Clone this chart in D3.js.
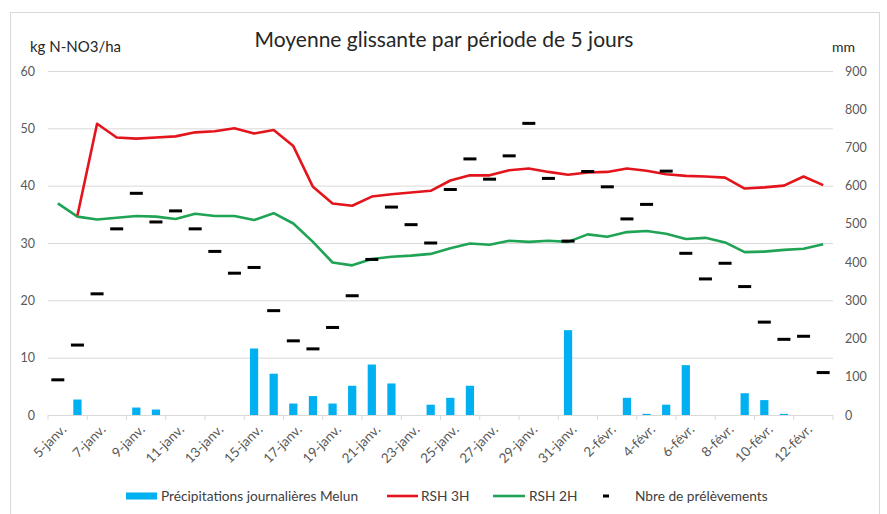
<!DOCTYPE html>
<html>
<head>
<meta charset="utf-8">
<script src="https://cdn.jsdelivr.net/npm/d3@7"></script>
<style>
  body { margin: 0; background: #fff; }
  text { font-family: Lato, "Open Sans", sans-serif; }
</style>
</head>
<body>
<div id="chart-1"></div>
<script>
// categories: one per day, 5 janv -> 13 févr
var days = ["5-janv.","6-janv.","7-janv.","8-janv.","9-janv.","10-janv.","11-janv.","12-janv.","13-janv.","14-janv.",
            "15-janv.","16-janv.","17-janv.","18-janv.","19-janv.","20-janv.","21-janv.","22-janv.","23-janv.","24-janv.",
            "25-janv.","26-janv.","27-janv.","28-janv.","29-janv.","30-janv.","31-janv.","1-févr.","2-févr.","3-févr.",
            "4-févr.","5-févr.","6-févr.","7-févr.","8-févr.","9-févr.","10-févr.","11-févr.","12-févr.","13-févr."];

// daily rainfall Melun
var precip = [0, 2.7, 0, 0, 1.3, 0.95, 0, 0, 0, 0,
              11.6, 7.2, 2.0, 3.3, 2.0, 5.1, 8.8, 5.5, 0, 1.8,
              3.0, 5.1, 0, 0, 0, 0, 14.8, 0, 0, 3.0,
              0.2, 1.8, 8.7, 0, 0, 3.8, 2.6, 0.2, 0, 0];

// RSH 3H rolling mean (kg N-NO3/ha)
var rsh3 = [null, 34.8, 50.8, 48.4, 48.2, 48.4, 48.6, 49.3, 49.5, 50.0,
            49.1, 49.7, 46.9, 39.8, 36.9, 36.5, 38.1, 38.5, 38.8, 39.1,
            40.9, 41.8, 41.8, 42.7, 43.0, 42.4, 41.9, 42.3, 42.4, 43.0,
            42.6, 42.0, 41.7, 41.6, 41.4, 39.5, 39.7, 40.0, 41.6, 40.1];

// RSH 2H rolling mean (kg N-NO3/ha)
var rsh2 = [36.9, 34.6, 34.1, 34.4, 34.7, 34.6, 34.2, 35.1, 34.7, 34.7,
            34.0, 35.2, 33.4, 30.2, 26.6, 26.1, 27.2, 27.6, 27.8, 28.1,
            29.1, 29.9, 29.7, 30.4, 30.2, 30.4, 30.2, 31.5, 31.1, 31.9,
            32.1, 31.6, 30.7, 30.9, 30.1, 28.4, 28.5, 28.8, 29.0, 29.8];

// number of samples (right axis)
var nbre = [92, 183, 317, 487, 580, 505, 534, 487, 428, 371,
            386, 273, 194, 173, 229, 312, 407, 544, 498, 450,
            590, 670, 617, 678, 763, 619, 455, 637, 597, 513,
            551, 638, 423, 356, 397, 336, 243, 198, 206, 111];

var leftTicks = [0, 10, 20, 30, 40, 50, 60];
var rightTicks = [0, 100, 200, 300, 400, 500, 600, 700, 800, 900];

var W = 887, H = 514;
var plot = {left: 48, right: 833, top: 71, bottom: 415};

var svg = d3.select("#chart-1")
    .append("svg")
    .attr("width", W)
    .attr("height", H);

// chart frame
svg.append("rect")
    .attr("x", 10.5).attr("y", 12.5)
    .attr("width", 869).attr("height", 540)
    .style("fill", "#fff")
    .style("stroke", "#d9d9d9");

var x = d3.scaleBand().domain(days).range([plot.left, plot.right]).padding(0);
var y = d3.scaleLinear().domain([0, 60]).range([plot.bottom, plot.top]);
var y2 = d3.scaleLinear().domain([0, 900]).range([plot.bottom, plot.top]);
var bw = x.bandwidth();

// gridlines + left axis
var yAxis = d3.axisLeft(y)
    .tickValues(leftTicks)
    .tickSize(-(plot.right - plot.left))
    .tickPadding(13);

svg.append("g")
    .attr("class", "y axis")
    .attr("transform", "translate(" + plot.left + ",0)")
    .call(yAxis)
    .call(function(g) {
        g.select(".domain").remove();
        g.selectAll(".tick line").style("stroke", "#d9d9d9");
        g.selectAll(".tick text").style("fill", "#595959").style("font-size", "12.5px");
    });

// right axis (labels only)
svg.append("g")
    .attr("class", "y2 axis")
    .attr("transform", "translate(" + plot.right + ",0)")
    .call(d3.axisRight(y2).tickValues(rightTicks).tickSize(0).tickPadding(12))
    .call(function(g) {
        g.select(".domain").remove();
        g.selectAll(".tick text").style("fill", "#595959").style("font-size", "12.5px");
    });

// x axis line and tick marks every 2 days
svg.append("line")
    .attr("x1", plot.left).attr("x2", plot.right)
    .attr("y1", plot.bottom + 0.5).attr("y2", plot.bottom + 0.5)
    .style("stroke", "#d9d9d9");

var tickIdx = d3.range(0, days.length + 1, 2);
svg.append("g").selectAll("line")
    .data(tickIdx)
    .enter().append("line")
    .attr("x1", function(i) { return i < days.length ? x(days[i]) : plot.right; })
    .attr("x2", function(i) { return i < days.length ? x(days[i]) : plot.right; })
    .attr("y1", plot.bottom)
    .attr("y2", plot.bottom + 5)
    .style("stroke", "#d9d9d9");

svg.append("g").selectAll("text")
    .data(days.filter(function(d, i) { return i % 2 === 0; }))
    .enter().append("text")
    .attr("transform", function(d) {
        return "translate(" + (x(d) + bw / 2 + 6) + "," + (plot.bottom + 12) + ") rotate(-45)";
    })
    .attr("text-anchor", "end")
    .attr("dy", "0.35em")
    .style("fill", "#595959")
    .style("font-size", "13.5px")
    .text(function(d) { return d; });

// rainfall bars
var barW = bw * 0.42;
svg.append("g").selectAll("rect")
    .data(precip.map(function(v, i) { return {day: days[i], v: v}; }).filter(function(d) { return d.v > 0; }))
    .enter().append("rect")
    .attr("x", function(d) { return x(d.day) + (bw - barW) / 2; })
    .attr("y", function(d) { return y(d.v); })
    .attr("width", barW)
    .attr("height", function(d) { return plot.bottom - y(d.v); })
    .style("fill", "#00b0f0");

// lines
var line = d3.line()
    .defined(function(d) { return d.v !== null; })
    .x(function(d) { return x(d.day) + bw / 2; })
    .y(function(d) { return y(d.v); });

svg.append("path")
    .datum(rsh2.map(function(v, i) { return {day: days[i], v: v}; }))
    .attr("d", line)
    .style("fill", "none")
    .style("stroke", "#1fa355")
    .style("stroke-width", "2.6px")
    .style("stroke-linejoin", "round");

svg.append("path")
    .datum(rsh3.map(function(v, i) { return {day: days[i], v: v}; }))
    .attr("d", line)
    .style("fill", "none")
    .style("stroke", "#e3141b")
    .style("stroke-width", "2.6px")
    .style("stroke-linejoin", "round");

// sample count dashes
svg.append("g").selectAll("rect")
    .data(nbre.map(function(v, i) { return {day: days[i], v: v}; }))
    .enter().append("rect")
    .attr("x", function(d) { return x(d.day) + bw / 2 - 6.5; })
    .attr("y", function(d) { return y2(d.v) - 1.5; })
    .attr("width", 13)
    .attr("height", 3)
    .style("fill", "#000");

// titles
svg.append("text")
    .attr("x", 444).attr("y", 47)
    .attr("text-anchor", "middle")
    .style("font-size", "21px")
    .style("fill", "#262626")
    .text("Moyenne glissante par période de 5 jours");

svg.append("text")
    .attr("x", 30).attr("y", 52)
    .style("font-size", "15px")
    .style("fill", "#262626")
    .text("kg N-NO3/ha");

svg.append("text")
    .attr("x", 832).attr("y", 52)
    .style("font-size", "14px")
    .style("fill", "#262626")
    .text("mm");

// legend
var leg = svg.append("g").attr("transform", "translate(0,496)");
leg.append("rect").attr("x", 126).attr("y", -3.5).attr("width", 31).attr("height", 7).style("fill", "#00b0f0");
leg.append("text").attr("x", 161).attr("dy", "0.35em").style("font-size", "13.7px").style("fill", "#404040")
    .text("Précipitations journalières Melun");
leg.append("line").attr("x1", 387).attr("x2", 418).style("stroke", "#e3141b").style("stroke-width", 2.6);
leg.append("text").attr("x", 421).attr("dy", "0.35em").style("font-size", "13.7px").style("fill", "#404040")
    .text("RSH 3H");
leg.append("line").attr("x1", 493).attr("x2", 525).style("stroke", "#1fa355").style("stroke-width", 2.6);
leg.append("text").attr("x", 529).attr("dy", "0.35em").style("font-size", "13.7px").style("fill", "#404040")
    .text("RSH 2H");
leg.append("rect").attr("x", 603).attr("y", -1.5).attr("width", 6).attr("height", 3).style("fill", "#000");
leg.append("text").attr("x", 635).attr("dy", "0.35em").style("font-size", "13.7px").style("fill", "#404040")
    .text("Nbre de prélèvements");
</script>
</body>
</html>
